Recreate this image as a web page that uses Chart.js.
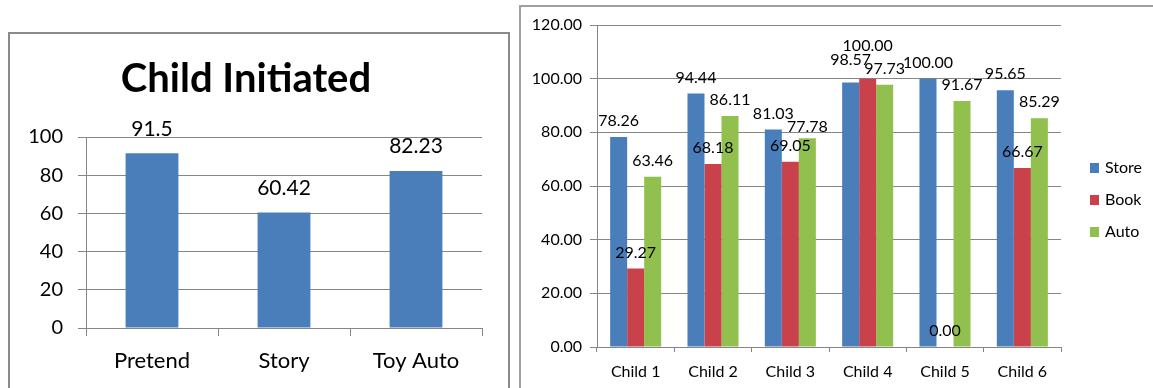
<!DOCTYPE html>
<html>
<head>
<meta charset="utf-8">
<script src="https://cdn.jsdelivr.net/npm/chart.js@4.4.1/dist/chart.umd.min.js"></script>
<style>
  body { margin: 0; width: 1153px; height: 388px; overflow: hidden; background: #fff; position: relative; }
  #box1 { position: absolute; left: 8px; top: 32px; width: 498px; height: 400px; border: 2px solid #8a8a8a; }
  #box2 { position: absolute; left: 519px; top: 5px; width: 700px; height: 400px; border: 2px solid #a0a0a0; }
  #wrap1 { position: absolute; left: 0; top: 0; width: 498px; height: 360px; }
  #wrap2 { position: absolute; left: 0; top: 0; width: 632px; height: 381px; }
</style>
</head>
<body>
<div id="box1"><div id="wrap1"><canvas id="leftChart"></canvas></div></div>
<div id="box2"><div id="wrap2"><canvas id="rightChart"></canvas></div></div>
<script>
const skills = ["Pretend", "Story", "Toy Auto"];
const initiated = [91.5, 60.42, 82.23];

const children = ["Child 1", "Child 2", "Child 3", "Child 4", "Child 5", "Child 6"];
const storeVals = [78.26, 94.44, 81.03, 98.57, 100.00, 95.65];
const bookVals = [29.27, 68.18, 69.05, 100.00, 0.00, 66.67];
const autoVals = [63.46, 86.11, 77.78, 97.73, 91.67, 85.29];

const gridGray = "#868686";
const FONT = "Lato";

// value labels above each bar
function makeLabels(size, offset, decimals, nudge) {
  return {
    id: 'barLabels',
    afterDatasetsDraw(chart) {
      const ctx = chart.ctx;
      ctx.save();
      ctx.font = size + "px " + FONT;
      ctx.fillStyle = "#000";
      ctx.textAlign = "center";
      ctx.textBaseline = "middle";
      chart.data.datasets.forEach(function(ds, i) {
        chart.getDatasetMeta(i).data.forEach(function(bar, j) {
          const v = ds.data[j];
          const txt = decimals == null ? String(v) : v.toFixed(decimals);
          const extra = (nudge && nudge[i + ":" + j]) || 0;
          ctx.fillText(txt, bar.x, bar.y - offset - extra);
        });
      });
      ctx.restore();
    }
  };
}

// legend drawn at the right, Excel style
const sideLegend = {
  id: 'sideLegend',
  afterDraw(chart) {
    const ctx = chart.ctx;
    ctx.save();
    ctx.font = "16px " + FONT;
    ctx.textBaseline = "middle";
    ctx.textAlign = "left";
    chart.data.datasets.forEach(function(ds, i) {
      const y = 161 + i * 32;
      ctx.fillStyle = ds.backgroundColor;
      ctx.fillRect(569, y - 5, 9, 10);
      ctx.fillStyle = "#000";
      ctx.fillText(ds.label, 584, y);
    });
    ctx.restore();
  }
};

new Chart("leftChart", {
  type: "bar",
  data: {
    labels: skills,
    datasets: [{
      label: "Child Initiated",
      data: initiated,
      backgroundColor: "#4a7ebb",
      barPercentage: 0.4,
      categoryPercentage: 1
    }]
  },
  options: {
    responsive: true,
    maintainAspectRatio: false,
    animation: false,
    layout: { padding: { left: 0, right: 26, top: 0, bottom: 0 } },
    plugins: {
      legend: { display: false },
      tooltip: { enabled: false },
      title: {
        display: true,
        text: "Child Initiated",
        color: "#000",
        font: { family: FONT, size: 40, weight: "bold", lineHeight: 1.2 },
        padding: { top: 21, bottom: 34 }
      }
    },
    scales: {
      x: {
        afterFit: function(s) { s.height = 66; },
        grid: { drawOnChartArea: false, drawTicks: true, tickLength: 8, color: gridGray },
        border: { color: gridGray },
        ticks: { color: "#000", padding: 12, font: { family: FONT, size: 22 } }
      },
      y: {
        min: 0,
        max: 100,
        afterFit: function(s) { s.width = 76; },
        grid: { color: gridGray, tickLength: 8 },
        border: { color: gridGray },
        ticks: { stepSize: 20, color: "#000", padding: 15, font: { family: FONT, size: 20 } }
      }
    }
  },
  plugins: [makeLabels(21, 24.5, null, null)]
});

new Chart("rightChart", {
  type: "bar",
  data: {
    labels: children,
    datasets: [
      { label: "Store", data: storeVals, backgroundColor: "#4a7ebb" },
      { label: "Book", data: bookVals, backgroundColor: "#c8414b" },
      { label: "Auto", data: autoVals, backgroundColor: "#91c04e" }
    ]
  },
  options: {
    responsive: true,
    maintainAspectRatio: false,
    animation: false,
    datasets: { bar: { barPercentage: 1, categoryPercentage: 0.66 } },
    layout: { padding: { left: 0, right: 92, top: 18, bottom: 0 } },
    plugins: {
      legend: { display: false },
      tooltip: { enabled: false }
    },
    scales: {
      x: {
        afterFit: function(s) { s.height = 41; },
        grid: { drawOnChartArea: false, drawTicks: true, tickLength: 5, color: gridGray },
        border: { color: gridGray },
        ticks: { color: "#000", padding: 10, font: { family: FONT, size: 16 } }
      },
      y: {
        min: 0,
        max: 120,
        afterFit: function(s) { s.width = 76; },
        grid: { color: gridGray, tickLength: 7 },
        border: { color: gridGray },
        ticks: {
          stepSize: 20, color: "#000", padding: 8, font: { family: FONT, size: 16 },
          callback: function(v) { return v.toFixed(2); }
        }
      }
    }
  },
  plugins: [makeLabels(16, 16, 2, { "1:3": 17, "0:3": 7, "2:2": -5 }), sideLegend]
});
</script>
</body>
</html>
